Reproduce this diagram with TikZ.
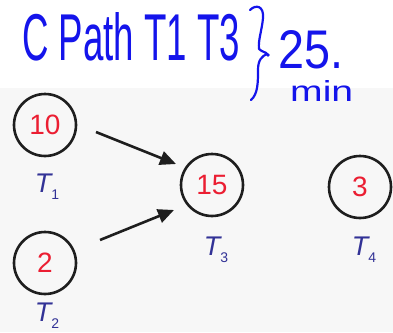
\documentclass[tikz,border=0pt]{standalone}
\usepackage{fontspec}
\setmainfont{Liberation Sans}
\usetikzlibrary{arrows.meta}
\definecolor{hand}{RGB}{20,20,235}
\definecolor{numred}{RGB}{235,30,50}
\definecolor{lblblue}{RGB}{50,50,150}
\definecolor{ring}{RGB}{30,30,30}
\tikzset{
  task/.style={draw=ring, line width=2.6pt, circle, minimum size=62pt, inner sep=0pt,
    text=numred, font=\fontsize{28}{28}\selectfont},
  tlabel/.style={text=lblblue, font=\fontsize{27}{27}\selectfont\itshape, inner sep=0pt},
  flow/.style={line width=2.6pt, draw=ring, -{Triangle[length=16pt,width=14pt]}},
  handtext/.style={text=hand, inner sep=0pt}
}
\newcommand{\tsub}[1]{T\raisebox{-7pt}{\upshape\fontsize{14}{14}\selectfont #1}}
\begin{document}
\begin{tikzpicture}[x=1pt,y=-1pt]
\useasboundingbox (0,0) rectangle (393,332);
\fill[white] (0,0) rectangle (393,332);
\fill[black!3] (0,88) rectangle (393,332);
% handwritten note
\node[handtext, anchor=north west] (note) at (22,12)
  {\resizebox{218pt}{48pt}{\fontsize{30}{30}\selectfont C Path T1 T3}};
\draw[hand, line width=2.2pt, line cap=round, line join=round]
  (250,10) .. controls (256,4) and (264,6) .. (263,18)
  .. controls (262,30) and (258,40) .. (259,49)
  .. controls (262,52) and (266,52) .. (267,54)
  .. controls (262,56) and (258,60) .. (258,70)
  .. controls (258,82) and (258,94) .. (251,100);
\fill[hand] (268,55) circle (1.8pt);
\node[handtext, anchor=north west] (num) at (278,30)
  {\resizebox{65pt}{38pt}{\fontsize{30}{30}\selectfont 25.}};
\node[handtext, anchor=north west] (unit) at (290,80)
  {\resizebox{63pt}{21pt}{\fontsize{24}{24}\selectfont min}};
% tasks
\node[task] (t1) at (45,125) {10};
\node[task] (t2) at (45,263) {2};
\node[task] (t3) at (212,185) {15};
\node[task] (t4) at (360,187) {3};
\node[tlabel] (l1) at (47,187) {\tsub{1}};
\node[tlabel] (l2) at (47,316) {\tsub{2}};
\node[tlabel] (l3) at (216,250) {\tsub{3}};
\node[tlabel] (l4) at (364,250) {\tsub{4}};
% arrows
\coordinate (a1s) at (96,132);
\coordinate (a2s) at (100,240);
\draw[flow] (a1s) -- (176,164);
\draw[flow] (a2s) -- (174,210);
\end{tikzpicture}
\end{document}
